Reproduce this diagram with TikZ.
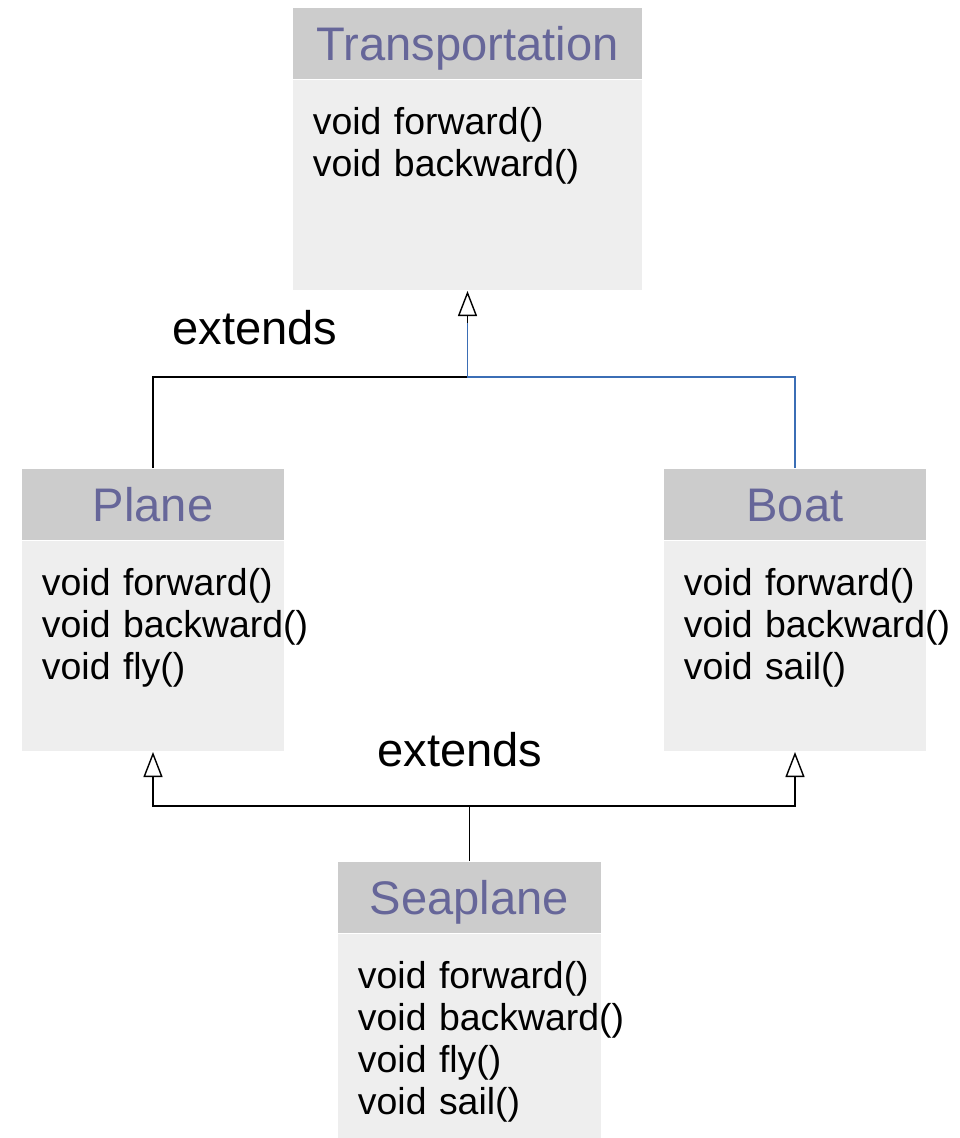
\documentclass[tikz,border=0pt]{standalone}
\usepackage{fontspec}
\setmainfont{Liberation Sans}
\usepackage{tikz}
\usetikzlibrary{arrows.meta, positioning}
\usepackage{xcolor}
\definecolor{hdgray}{RGB}{204,204,204}
\definecolor{bdgray}{RGB}{238,238,238}
\definecolor{titleblue}{RGB}{102,102,153}
\definecolor{bluelink}{RGB}{59,110,181}

\tikzset{
	classhd/.style={fill=hdgray, text=titleblue, anchor=north, minimum height=0.71cm, inner ysep=0pt, text height=0.34cm, text depth=0pt, font=\fontsize{13.4pt}{16pt}\selectfont},
	classbd/.style={fill=bdgray, align=left, inner xsep=0.2cm, inner ysep=0pt, text height=0.54cm, text depth=1.56cm, font=\fontsize{10.64pt}{11.95pt}\selectfont, execute at begin node={\hyphenpenalty=10000}},
	extlabel/.style={font=\fontsize{13.4pt}{16pt}\selectfont},
	inherit/.style={-{Triangle[open, length=0.25cm, width=0.19cm]}, line width=0.4pt},
}

\begin{document}
\begin{tikzpicture}[x=0.01cm, y=0.01cm]
		\useasboundingbox (0,0) rectangle (960,-1138);
		\node[classhd, minimum width=3.49cm] (transHd) at (467.5,-7) {Transportation};
		\node[classbd, text width=3.09cm, below=0pt of transHd] (transBd) {void~forward()\\void~backward()};
		\node[classhd, minimum width=2.62cm] (planeHd) at (153,-468) {Plane};
		\node[classbd, text width=2.22cm, below=0pt of planeHd] (planeBd) {void~forward()\\void~backward()\\void~fly()};
		\node[classhd, minimum width=2.62cm] (boatHd) at (795,-468) {Boat};
		\node[classbd, text width=2.22cm, below=0pt of boatHd] (boatBd) {void~forward()\\void~backward()\\void~sail()};
		\node[classhd, minimum width=2.63cm] (seaHd) at (469.5,-861) {Seaplane};
		\node[classbd, text width=2.23cm, text depth=1.52cm, below=0pt of seaHd] (seaBd) {void~forward()\\void~backward()\\void~fly()\\void~sail()};
		\node[extlabel] (extTop) at (255,-327.5) {extends};
		\node[extlabel] (extBot) at (460,-750) {extends};
		\coordinate (topJoin) at (467.5,-377);
		\coordinate (botJoin) at (469.5,-806);
		\draw[inherit] (planeHd.north) |- (topJoin) -- (transBd.south);
		\draw[bluelink, line width=0.4pt] (boatHd.north) |- (topJoin) -- ++(0,54);
		\draw[inherit] (seaHd.north) -- (botJoin) -| (planeBd.south);
		\draw[inherit] (botJoin) -| (boatBd.south);
		\end{tikzpicture}
\end{document}
